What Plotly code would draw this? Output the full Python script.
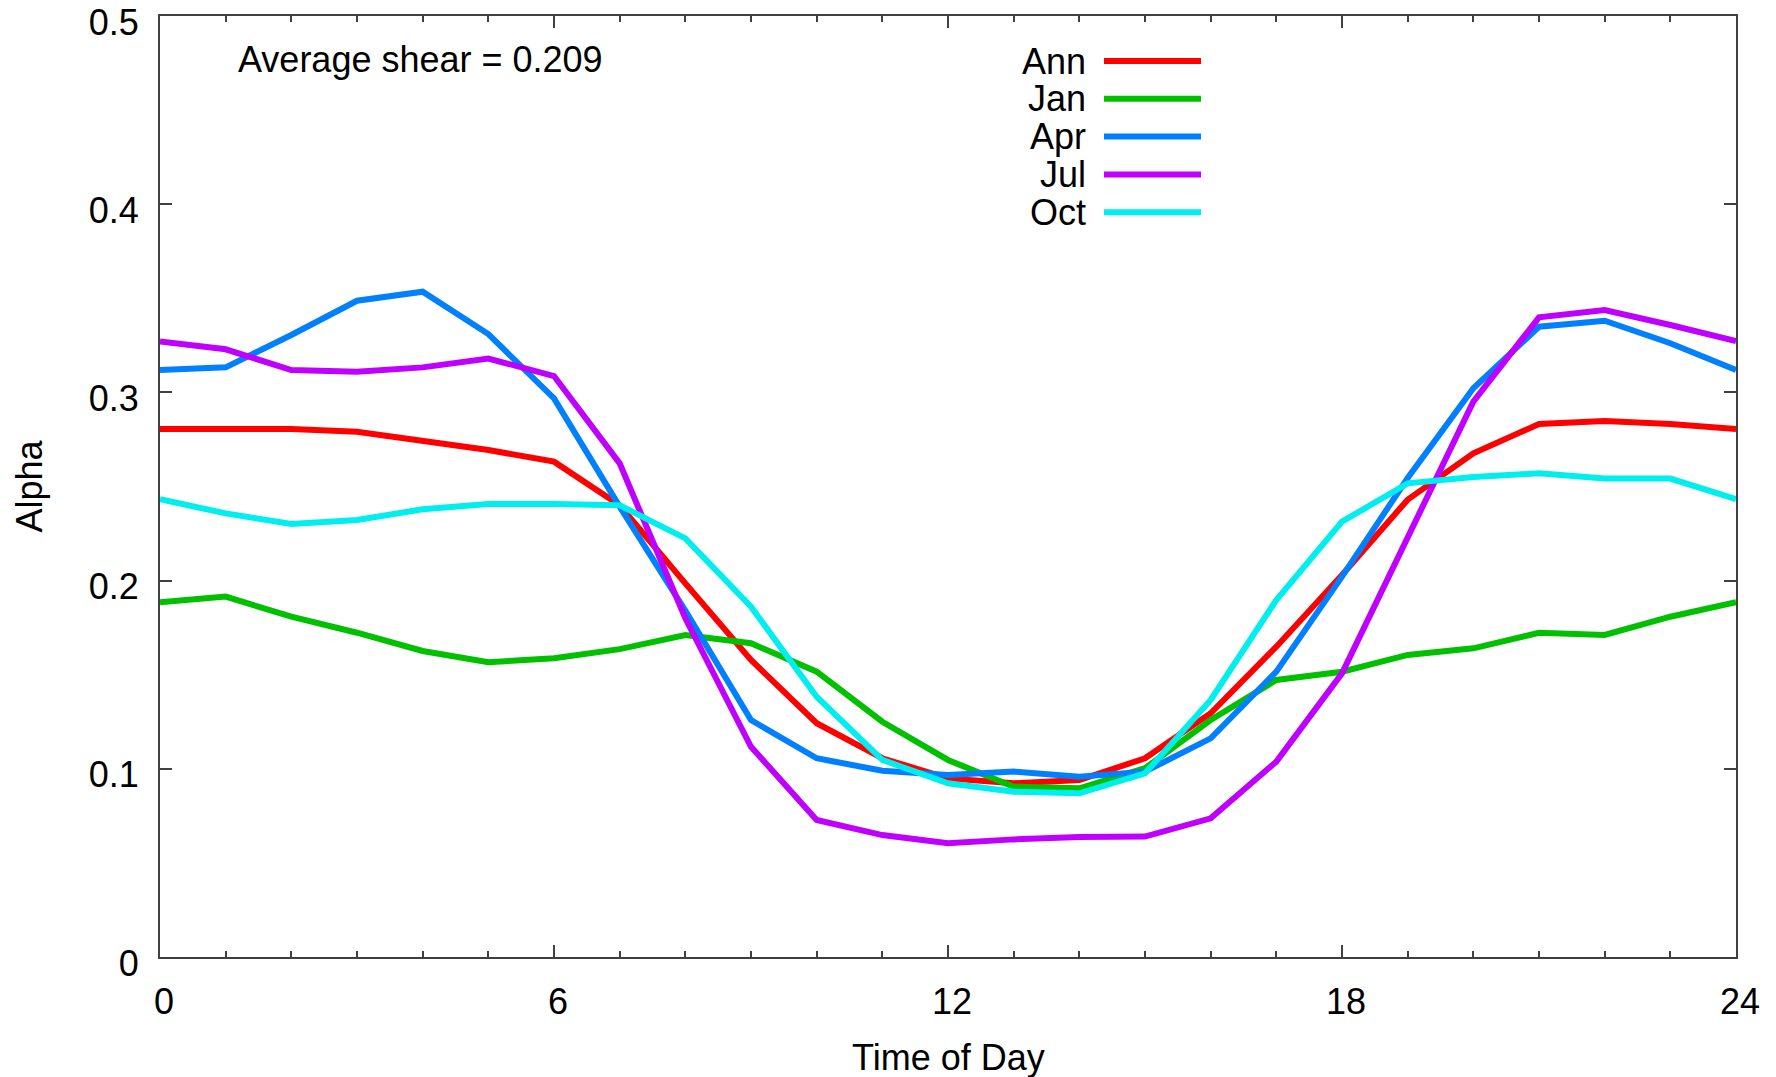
import plotly.graph_objects as go

hours = list(range(25))

ann = [0.2805, 0.2805, 0.2805, 0.2791, 0.2743, 0.2694, 0.2632, 0.2400, 0.1985, 0.1578,
       0.1242, 0.1056, 0.0949, 0.0923, 0.0940, 0.1056, 0.1295, 0.1649, 0.2030, 0.2430,
       0.2676, 0.2832, 0.2848, 0.2832, 0.2805]
jan = [0.1885, 0.1915, 0.1808, 0.1723, 0.1626, 0.1566, 0.1587, 0.1636, 0.1711, 0.1667,
       0.1516, 0.1250, 0.1047, 0.0905, 0.0896, 0.1003, 0.1259, 0.1472, 0.1516, 0.1605,
       0.1640, 0.1723, 0.1711, 0.1808, 0.1885]
apr = [0.3119, 0.3133, 0.3305, 0.3487, 0.3535, 0.3310, 0.2968, 0.2393, 0.1840, 0.1259,
       0.1056, 0.0990, 0.0967, 0.0985, 0.0958, 0.0985, 0.1162, 0.1516, 0.2021, 0.2545,
       0.3022, 0.3349, 0.3381, 0.3261, 0.3119]
jul = [0.3270, 0.3229, 0.3119, 0.3110, 0.3133, 0.3180, 0.3087, 0.2623, 0.1800, 0.1117,
       0.0728, 0.0648, 0.0604, 0.0625, 0.0637, 0.0640, 0.0737, 0.1038, 0.1507, 0.2233,
       0.2951, 0.3399, 0.3438, 0.3358, 0.3273]
oct_ = [0.2432, 0.2357, 0.2301, 0.2322, 0.2379, 0.2407, 0.2407, 0.2400, 0.2224, 0.1861,
        0.1383, 0.1047, 0.0923, 0.0878, 0.0870, 0.0976, 0.1366, 0.1897, 0.2313, 0.2517,
        0.2550, 0.2570, 0.2543, 0.2542, 0.2433]

names = ["Ann", "Jan", "Apr", "Jul", "Oct"]
series = [ann, jan, apr, jul, oct_]
colors = ["#ff0000", "#00c000", "#0080ff", "#c000ff", "#00eeee"]

x_ticks = [0, 6, 12, 18, 24]
y_ticks = [0, 0.1, 0.2, 0.3, 0.4, 0.5]
y_tick_text = ["0", "0.1", "0.2", "0.3", "0.4", "0.5"]

FONT = "Liberation Sans, Arial, sans-serif"
FS = 36

fig = go.Figure()
for name, vals, col in zip(names, series, colors):
    fig.add_trace(go.Scatter(x=hours, y=vals, mode="lines", name=name,
                             line=dict(color=col, width=6), showlegend=False))

W, H = 1776, 1077
L, R, T, B = 160, 40, 16, 120
pw, ph = W - L - R, H - T - B

axis_common = dict(showline=True, linecolor="#404040", linewidth=2, mirror="ticks",
                   ticks="inside", tickcolor="#404040", tickwidth=1.5, ticklen=12,
                   showgrid=False, zeroline=False, ticklabeloverflow="allow",
                   automargin=False,
                   tickfont=dict(family=FONT, size=FS, color="black"))

fig.update_xaxes(range=[0, 24], tickvals=x_ticks, ticktext=[str(v) for v in x_ticks],
                 minor=dict(dtick=1, tick0=0, ticks="inside", ticklen=6,
                            tickcolor="#404040", tickwidth=1.5, showgrid=False),
                 ticklabelstandoff=12, ticklabelshift=4, **axis_common)
fig.update_yaxes(range=[0, 0.5], tickvals=y_ticks, ticktext=y_tick_text,
                 ticklabelstandoff=12, ticklabelshift=6, **axis_common)

plot_left = L
plot_bottom = T + ph

annotations = [
    dict(text="Average shear = 0.209", xref="paper", yref="paper",
         x=(236 - plot_left) / pw, y=(plot_bottom - 59) / ph, xanchor="left",
         yanchor="middle", showarrow=False,
         font=dict(family=FONT, size=FS, color="black")),
    dict(text="Time of Day", xref="paper", yref="paper", x=0.5, y=0,
         yshift=-100, xanchor="center", yanchor="middle", showarrow=False,
         font=dict(family=FONT, size=FS, color="black")),
    dict(text="Alpha", xref="paper", yref="paper", x=0, y=0.5, xshift=-131,
         textangle=-90, xanchor="center", yanchor="middle", showarrow=False,
         font=dict(family=FONT, size=FS, color="black")),
]
shapes = []
text_x = (1088 - plot_left) / pw
line_x0 = (1104 - plot_left) / pw
line_x1 = (1201 - plot_left) / pw
row0 = (plot_bottom - 61) / ph
step = 37.8 / ph
for i, (name, col) in enumerate(zip(names, colors)):
    yy = row0 - i * step
    annotations.append(dict(text=name, xref="paper", yref="paper", x=text_x, y=yy,
                            xanchor="right", yanchor="middle", showarrow=False,
                            font=dict(family=FONT, size=FS, color="black")))
    shapes.append(dict(type="line", xref="paper", yref="paper", x0=line_x0, x1=line_x1,
                       y0=yy, y1=yy, line=dict(color=col, width=6)))

fig.update_layout(width=W, height=H, margin=dict(l=L, r=R, t=T, b=B),
                  paper_bgcolor="white", plot_bgcolor="white",
                  annotations=annotations, shapes=shapes,
                  font=dict(family=FONT, size=FS, color="black"))

fig.write_html("out.html", config={"displayModeBar": False},
               post_script="document.body.style.margin='0';document.body.style.overflow='hidden';")
